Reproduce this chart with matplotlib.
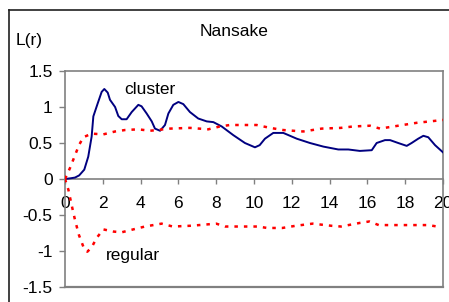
import matplotlib
matplotlib.use("Agg")
import matplotlib.pyplot as plt
from matplotlib.lines import Line2D

plt.rcParams['font.family'] = ['Liberation Sans', 'DejaVu Sans']

# Observed L(r)
cluster_r = [0, 0.3, 0.53, 0.75, 1.02, 1.23, 1.41, 1.5, 1.73, 1.94, 2.08, 2.26, 2.38, 2.65,
             2.82, 3.0, 3.26, 3.53, 3.88, 4.05, 4.32, 4.59, 4.76, 5.03, 5.29, 5.47, 5.73,
             6.0, 6.26, 6.61, 7.05, 7.5, 7.85, 8.29, 8.9, 9.52, 10.05, 10.3, 10.58, 11.02,
             11.55, 12.26, 12.96, 13.67, 14.46, 14.99, 15.6, 16.23, 16.49, 16.93, 17.2,
             17.63, 18.08, 18.34, 18.69, 18.96, 19.22, 19.58, 20.0]
cluster_L = [0, 0.01, 0.02, 0.05, 0.13, 0.31, 0.59, 0.87, 1.05, 1.21, 1.25, 1.20, 1.10, 1.0,
             0.875, 0.83, 0.83, 0.93, 1.03, 1.01, 0.91, 0.80, 0.70, 0.67, 0.75, 0.91, 1.03,
             1.07, 1.04, 0.93, 0.84, 0.80, 0.79, 0.73, 0.61, 0.50, 0.44, 0.47, 0.56, 0.64,
             0.64, 0.56, 0.50, 0.45, 0.41, 0.41, 0.39, 0.40, 0.50, 0.54, 0.54,
             0.50, 0.46, 0.50, 0.56, 0.60, 0.58, 0.47, 0.37]

# Upper envelope (cluster side)
upper_r = [0, 0.26, 0.53, 0.74, 0.97, 1.41, 2.03, 2.65, 3.17, 3.88, 4.5, 5.56, 6.61, 7.58,
           8.2, 8.73, 10.14, 10.85, 11.55, 12.6, 13.58, 14.6, 15.26, 16.14, 16.67, 17.63,
           18.6, 19.66, 20.0]
upper_L = [0, 0.15, 0.33, 0.47, 0.58, 0.63, 0.62, 0.66, 0.68, 0.69, 0.67, 0.70, 0.71, 0.69,
           0.73, 0.75, 0.75, 0.71, 0.68, 0.66, 0.70, 0.71, 0.73, 0.74, 0.70, 0.74,
           0.78, 0.81, 0.82]

# Lower envelope (regular side)
lower_r = [0, 0.18, 0.35, 0.53, 0.74, 0.97, 1.18, 1.41, 1.67, 2.03, 2.56, 3.0, 3.61, 4.23,
           5.11, 5.7, 6.6, 7.1, 8.0, 8.47, 10.2, 10.7, 11.5, 12.2, 13.1, 14.1, 14.6, 15.6,
           16.1, 16.6, 17.6, 19.2, 19.7]
lower_L = [0, -0.15, -0.36, -0.57, -0.78, -0.94, -1.01, -0.95, -0.82, -0.70, -0.73, -0.74,
           -0.70, -0.66, -0.62, -0.66, -0.65, -0.64, -0.62, -0.66, -0.66, -0.68, -0.68,
           -0.65, -0.62, -0.65, -0.66, -0.61, -0.59, -0.64, -0.64, -0.64, -0.66]

x_ticks = [0, 2, 4, 6, 8, 10, 12, 14, 16, 18, 20]
y_ticks = [-1.5, -1, -0.5, 0, 0.5, 1, 1.5]
y_tick_labels = ['-1.5', '-1', '-0.5', '0', '0.5', '1', '1.5']

W, H = 449, 302
fig = plt.figure(figsize=(W / 100, H / 100), dpi=100)
fig.patch.set_facecolor('white')

# outer chart frame (top and left visible)
fig.add_artist(Line2D([9 / W, 1.0], [1 - 10 / H, 1 - 10 / H], color='#202020', lw=1.2,
                      transform=fig.transFigure))
fig.add_artist(Line2D([9 / W, 9 / W], [0, 1 - 10 / H], color='#202020', lw=1.2,
                      transform=fig.transFigure))

left, right, top, bottom = 65, 443, 71, 287
ax = fig.add_axes([left / W, 1 - bottom / H, (right - left) / W, (bottom - top) / H])
ax.set_xlim(0, 20)
ax.set_ylim(-1.5, 1.5)

grey = '#808080'
for s in ['top', 'right', 'left']:
    ax.spines[s].set_color(grey)
    ax.spines[s].set_linewidth(1.2)
ax.spines['bottom'].set_position(('data', 0))
ax.spines['bottom'].set_color(grey)
ax.spines['bottom'].set_linewidth(1.2)
ax.axhline(-1.5, color=grey, lw=1.6, clip_on=False)

ax.plot(cluster_r, cluster_L, color='#000080', lw=1.4, zorder=3)
ax.plot(upper_r, upper_L, color='#ff0000', lw=1.8, linestyle=(0, (1.4, 2.4)), zorder=4)
ax.plot(lower_r, lower_L, color='#ff0000', lw=1.8, linestyle=(0, (1.4, 2.4)), zorder=4)

ax.set_xticks(x_ticks)
ax.set_xticklabels([str(t) for t in x_ticks])
ax.set_yticks(y_ticks)
ax.set_yticklabels(y_tick_labels)
ax.tick_params(axis='x', direction='out', length=3.5, width=1, color=grey, pad=9,
               labelsize=12.5)
ax.tick_params(axis='y', direction='out', length=4, width=1, color=grey, pad=5,
               labelsize=12.5)
for lbl in ax.get_xticklabels():
    lbl.set_clip_on(False)

ax.text(4.5, 1.24, 'cluster', fontsize=12.5, ha='center', va='center')
ax.text(3.6, -1.06, 'regular', fontsize=12.5, ha='center', va='center')

fig.text(234 / W, 1 - 32 / H, 'Nansake', fontsize=12.5, ha='center', va='center')
fig.text(29 / W, 1 - 41 / H, 'L(r)', fontsize=12.5, ha='center', va='center')

fig.savefig('out.png', dpi=100)
